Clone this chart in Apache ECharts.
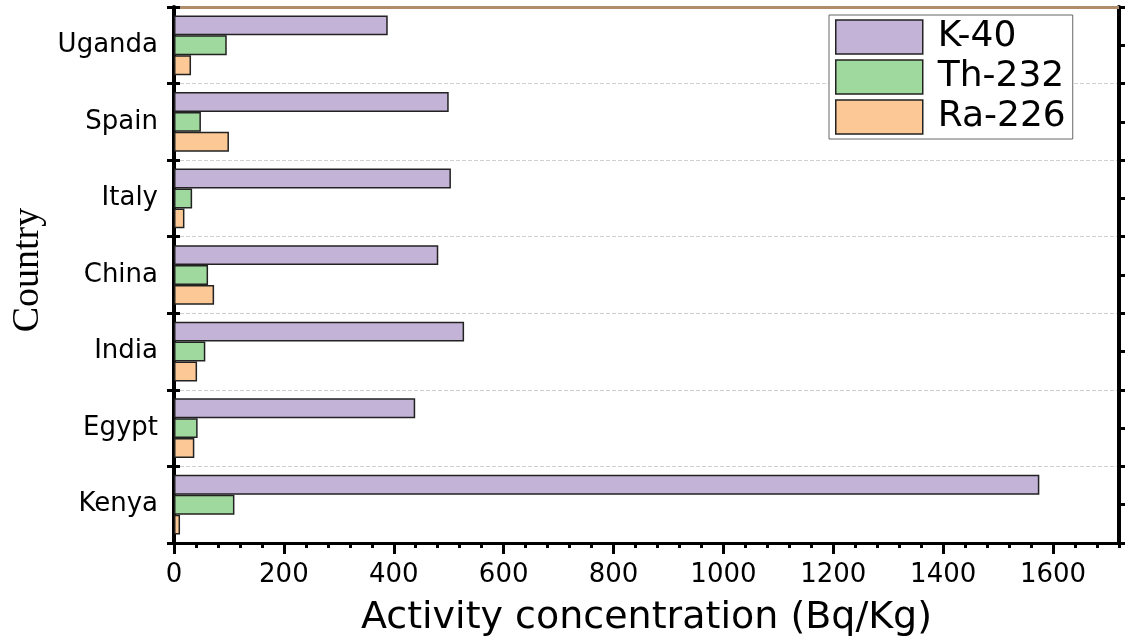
<!DOCTYPE html>
<html><head><meta charset="utf-8">
<script src="https://cdn.jsdelivr.net/npm/echarts@6/dist/echarts.min.js"></script>
<style>html,body{margin:0;padding:0;background:#fff}#c{width:1125px;height:639px}</style>
</head><body><div id="c"></div>
<script>
const countries = ['Kenya', 'Egypt', 'India', 'China', 'Italy', 'Spain', 'Uganda'];
const k40   = [1575, 439, 528, 481, 504, 500, 389];
const th232 = [110, 43, 57, 62, 33, 49, 96];
const ra226 = [11, 37, 42, 73, 19, 100, 31];
const seriesNames = ['K-40', 'Th-232', 'Ra-226'];
const seriesColors = ['#c3b3d6', '#a0d99e', '#fcc996'];
const xTicks = [0, 200, 400, 600, 800, 1000, 1200, 1400, 1600];

const FONT = 'DejaVu Sans';
const chart = echarts.init(document.getElementById('c'));
const values = [k40, th232, ra226];
chart.setOption({
  animation: false,
  grid: {left: 174, right: 6, top: 7, bottom: 96, outerBoundsMode: 'none', containLabel: false},
  legend: {
    data: seriesNames, orient: 'vertical', left: 829, top: 15,
    itemWidth: 87, itemHeight: 34, itemGap: 4,
    padding: [4, 7, 4, 6],
    borderColor: '#666', borderWidth: 1, backgroundColor: '#fff',
    icon: 'rect',
    itemStyle: {borderColor: '#222', borderWidth: 1.5},
    textStyle: {fontFamily: FONT, fontSize: 36, color: '#000', lineHeight: 34, padding: [0, 0, 0, 10]}
  },
  xAxis: [
    {type: 'value', min: 0, max: 1720, interval: 200, position: 'bottom',
     name: 'Activity concentration (Bq/Kg)', nameLocation: 'middle', nameGap: 56,
     nameTextStyle: {fontFamily: FONT, fontSize: 38, color: '#000'},
     axisLine: {show: true, lineStyle: {color: '#000', width: 3}},
     axisTick: {show: true, length: 11, lineStyle: {color: '#000', width: 3}},
     axisLabel: {fontFamily: FONT, fontSize: 26, color: '#000', margin: 19, showMaxLabel: false,
       formatter: v => xTicks.includes(v) ? String(v) : ''},
     splitLine: {show: false}},
    {type: 'value', min: 0, max: 1720, position: 'top',
     axisLine: {show: true, onZero: false, lineStyle: {color: '#b08c6a', width: 3}},
     axisTick: {show: false}, axisLabel: {show: false}, splitLine: {show: false}},
    {type: 'value', min: 0, max: 1720, interval: 40, position: 'bottom',
     axisLine: {show: false}, axisTick: {show: true, length: 5, lineStyle: {color: '#000', width: 3}},
     axisLabel: {show: false}, splitLine: {show: false}}
  ],
  yAxis: [
    {type: 'category', data: countries, position: 'left',
     name: 'Country', nameLocation: 'middle', nameGap: 124,
     nameTextStyle: {fontFamily: 'Liberation Serif', fontSize: 38, color: '#000', padding: [0, 0, 0, 10]},
     axisLine: {show: true, onZero: false, lineStyle: {color: '#000', width: 4}},
     axisTick: {show: true, length: 7, lineStyle: {color: '#000', width: 3}},
     axisLabel: {fontFamily: FONT, fontSize: 26, color: '#000', margin: 16},
     splitLine: {show: true, lineStyle: {color: '#cfcfcf', type: 'dashed', width: 1}}},
    {type: 'value', min: 0, max: 14, interval: 1, position: 'right',
     axisLine: {show: true, onZero: false, lineStyle: {color: '#000', width: 4}},
     axisTick: {show: true, length: 6, lineStyle: {color: '#000', width: 3}},
     axisLabel: {show: false}, splitLine: {show: false}},
    {type: 'value', min: 0, max: 7, interval: 1, position: 'left',
     axisLine: {show: false}, axisTick: {show: true, inside: true, length: 6, lineStyle: {color: '#000', width: 3}},
     axisLabel: {show: false}, splitLine: {show: false}}
  ],
  series: seriesNames.map((n, i) => ({
    name: n, type: 'bar', data: values[i], xAxisIndex: 0, yAxisIndex: 0,
    barGap: '0%', barCategoryGap: '22%',
    itemStyle: {color: seriesColors[i], borderColor: '#222', borderWidth: 1.5}
  }))
});
</script></body></html>
